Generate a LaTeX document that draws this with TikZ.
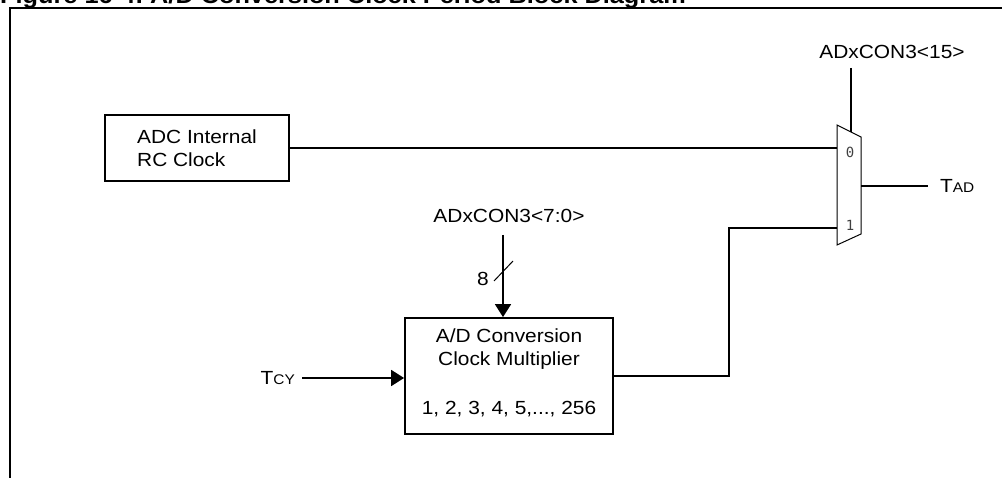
\documentclass[tikz,border=0pt]{standalone}
\usepackage{fontspec}
\setmainfont{Liberation Sans}[FakeStretch=1.1]
\newfontfamily\muxfont{DejaVu Sans Mono}
\usetikzlibrary{arrows.meta}
\begin{document}
\begin{tikzpicture}[x=1pt,y=-1pt,
  wire/.style={line width=1.8pt},
  blk/.style={draw, line width=1.8pt, inner sep=0pt},
  lbl/.style={font=\fontsize{19}{23}\selectfont, inner sep=0pt},
  muxlbl/.style={font=\muxfont\fontsize{14}{14}\selectfont, text=black!75, inner sep=0pt},
  arr/.style={wire, -{Triangle[length=13pt,width=16pt]}},
  titlefont/.style={font=\bfseries\fontsize{23}{25}\selectfont, inner sep=0pt, anchor=base west}]
\useasboundingbox (0,0) rectangle (1002,478);
% title (cut off at top, as in the reference)
\node[titlefont] (t1) at (0,4) {Figure 16-4:};
\node[titlefont] (t2) at (150,4) {A/D Conversion Clock Period Block Diagram};
% frame
\draw[wire] (1002,8) -- (10,8) -- (10,478);
% RC clock box
\node[blk, lbl, minimum width=184pt, minimum height=66pt, align=left] (rc) at (197,148) {ADC Internal\\RC Clock};
% mux
\coordinate (mtl) at (837,125);
\coordinate (mtr) at (861,137);
\coordinate (mbr) at (861,234);
\coordinate (mbl) at (837,245);
\draw[line width=1pt] (mtl) -- (mtr) -- (mbr) -- (mbl) -- cycle;
\coordinate (m0) at (837,148);
\coordinate (m1) at (837,228);
\coordinate (mout) at (861,186);
\coordinate (msel) at (851,132);
\node[muxlbl] (l0) at (850,152) {0};
\node[muxlbl] (l1) at (850,225) {1};
% select
\node[lbl] (sel) at (892,52) {ADxCON3<15>};
\coordinate (selTop) at (851,68);
\draw[wire] (selTop) -- (msel);
% output
\node[lbl, anchor=west] (tad) at (940,186) {T{\fontsize{14}{14}\selectfont AD}};
\draw[wire] (mout) -- ([xshift=-12pt]tad.west);
% RC to mux
\draw[wire] (rc.east) -- (m0);
% multiplier
\node[blk, minimum width=208pt, minimum height=116pt] (mult) at (509,376) {};
\node[lbl, align=center] (multtxt) at (509,373)
  {A/D Conversion\\Clock Multiplier\\[26pt]1, 2, 3, 4, 5,..., 256};
\node[lbl] (ctl) at (509,216) {ADxCON3<7:0>};
\coordinate (ctlTop) at (503,235);
\draw[arr] (ctlTop) -- (ctlTop |- mult.north);
\draw[line width=1pt] (494,281) -- (513,261);
\node[lbl] (eight) at (483,279) {8};
% TCY
\node[lbl, anchor=east] (tcy) at (295,378) {T{\fontsize{14}{14}\selectfont CY}};
\draw[arr] ([xshift=7pt]tcy.east) -- (tcy.east -| mult.west);
% multiplier to mux
\draw[wire] (mult.east) -- ++(115,0) |- (m1);
\end{tikzpicture}
\end{document}
